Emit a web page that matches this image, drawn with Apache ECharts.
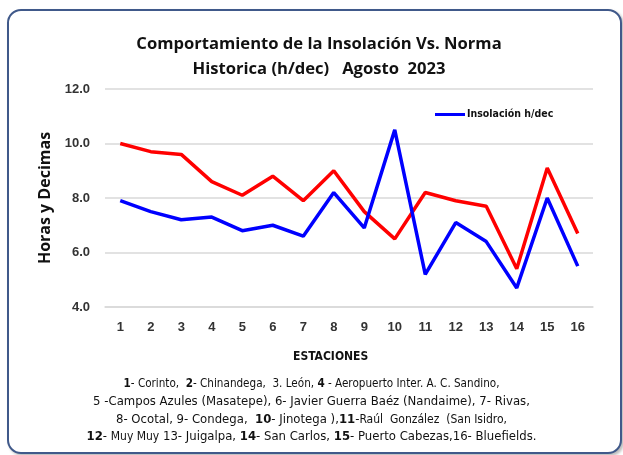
<!DOCTYPE html>
<html>
<head>
<meta charset="utf-8">
<script src="https://cdn.jsdelivr.net/npm/echarts@6/dist/echarts.min.js"></script>
<style>
html,body{margin:0;padding:0;background:#fff;}
#frame{position:absolute;left:7px;top:9px;width:611px;height:441px;border:2px solid #40598a;border-radius:14px;box-shadow:2px 2px 3px #bbb;background:#fff;}
#main{position:absolute;left:0;top:0;width:623px;height:455px;}
</style>
</head>
<body>
<div id="frame"></div>
<div id="main"></div>
<script>
// estaciones 1..16
const estaciones = ['1','2','3','4','5','6','7','8','9','10','11','12','13','14','15','16'];
// insolacion agosto 2023 (h/dec)
const insolacion = [7.9, 7.5, 7.2, 7.3, 6.8, 7.0, 6.6, 8.2, 6.9, 10.5, 5.2, 7.1, 6.4, 4.7, 8.0, 5.5];
// norma historica
const norma = [10.0, 9.7, 9.6, 8.6, 8.1, 8.8, 7.9, 9.0, 7.5, 6.5, 8.2, 7.9, 7.7, 5.4, 9.1, 6.7];
const yTicks = [4, 12, 2];

const titulo = ['Comportamiento de la Insolación Vs. Norma', 'Historica (h/dec)   Agosto  2023'];
const notas = [
	'{b|1}- Corinto,  {b|2}- Chinandega,  3. León, {b|4} - Aeropuerto Inter. A. C. Sandino,',
	'5 -Campos Azules (Masatepe), 6- Javier Guerra Baéz (Nandaime), 7- Rivas,',
	'8- Ocotal, 9- Condega,  {b|10}- Jinotega ),{b|11}-{s|Raúl  González  (San Isidro,}',
	'{b|12}- {s|Muy Muy} 13- Juigalpa, {b|14}- San Carlos, {b|15}- Puerto Cabezas,16- Bluefields.'
];
const notaSize = [11.6, 13, 13, 13];
const fNarrow = '"DejaVu Sans Condensed",sans-serif';

let myChart = echarts.init(document.getElementById('main'));
let graficos = notas.map((t, i) => ({
	type: 'text',
	left: 'center',
	top: 378 + i * 17.5,
	style: {
		text: t,
		font: notaSize[i] + 'px ' + fNarrow,
		fill: '#111',
		rich: {
			b: {fontWeight: 'bold', fontSize: notaSize[i], fontFamily: fNarrow, fill: '#111'},
			s: {fontSize: notaSize[i] - 1, fontFamily: fNarrow, fill: '#111'}
		}
	}
}));
graficos.push({
	type: 'text',
	left: 293,
	top: 351,
	style: {text: 'ESTACIONES', font: 'bold 12px ' + fNarrow, fill: '#111'}
});
titulo.forEach((t, i) => {
	graficos.push({
		type: 'text',
		x: 319,
		y: 44 + i * 25,
		style: {
			text: t,
			font: 'bold 16.6px "Open Sans",sans-serif',
			fill: '#111',
			textAlign: 'center',
			textVerticalAlign: 'middle'
		}
	});
});

let option = {
	backgroundColor: 'transparent',
	animation: false,
	legend: {
		data: ['Insolación h/dec'],
		left: 430,
		top: 104,
		itemWidth: 30,
		itemHeight: 3,
		icon: 'rect',
		itemGap: 2,
		textStyle: {fontFamily: fNarrow, fontWeight: 'bold', fontSize: 10.5, color: '#111', padding: [0, 0, 0, -3]}
	},
	grid: {left: 105, right: 30, top: 89, bottom: 148},
	xAxis: {
		type: 'category',
		data: estaciones,
		boundaryGap: true,
		axisLine: {show: true, lineStyle: {color: '#d9d9d9', width: 1.5}},
		axisTick: {show: false},
		axisLabel: {fontFamily: '"Liberation Sans",sans-serif', fontWeight: 'bold', fontSize: 13, color: '#333', margin: 14}
	},
	yAxis: {
		type: 'value',
		min: yTicks[0],
		max: yTicks[1],
		interval: yTicks[2],
		name: 'Horas y Decimas',
		nameLocation: 'middle',
		nameGap: 51,
		nameTextStyle: {fontFamily: '"Open Sans",sans-serif', fontWeight: 'bold', fontSize: 16, color: '#111'},
		axisLine: {show: false},
		axisTick: {show: false},
		splitLine: {lineStyle: {color: '#d9d9d9', width: 1.5}},
		axisLabel: {
			fontFamily: '"Liberation Sans",sans-serif', fontWeight: 'bold', fontSize: 13, color: '#333', margin: 15,
			formatter: v => v.toFixed(1)
		}
	},
	graphic: graficos,
	series: [
		{
			name: 'Insolación h/dec',
			type: 'line',
			data: insolacion,
			symbol: 'none',
			z: 3,
			lineStyle: {color: '#0000ff', width: 3.5},
			itemStyle: {color: '#0000ff'}
		},
		{
			name: 'Norma',
			type: 'line',
			data: norma,
			symbol: 'none',
			z: 2,
			lineStyle: {color: '#ff0000', width: 3.5},
			itemStyle: {color: '#ff0000'}
		}
	]
};
myChart.setOption(option);
</script>
</body>
</html>
